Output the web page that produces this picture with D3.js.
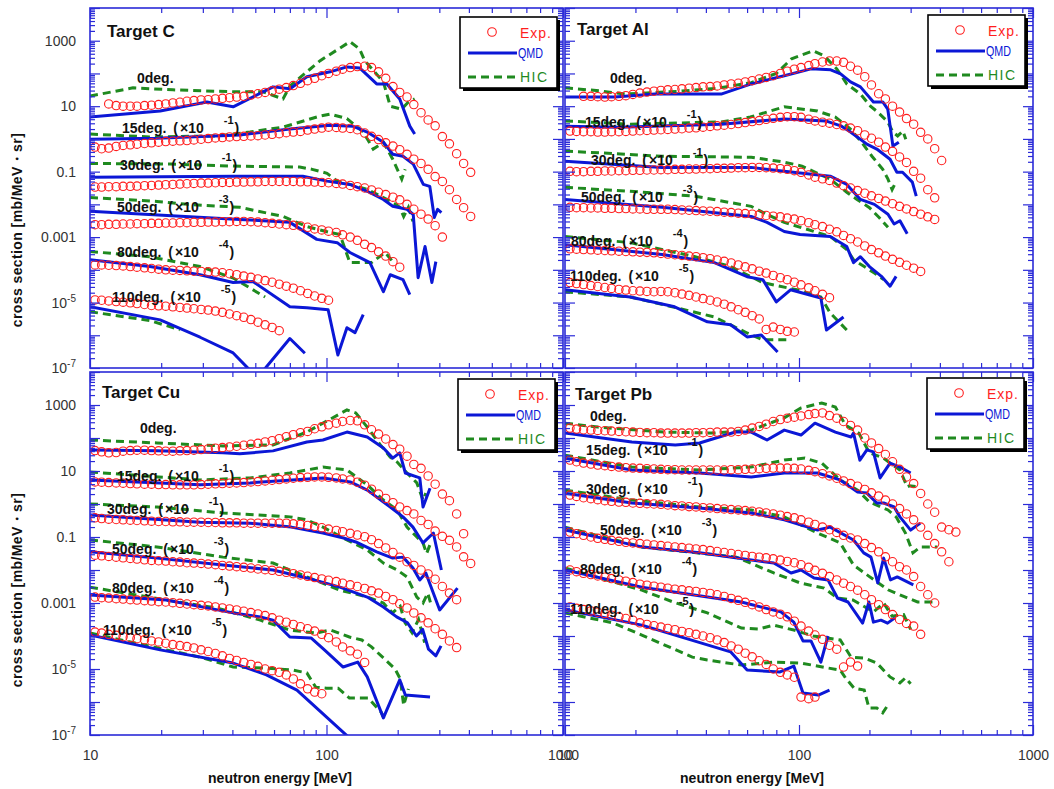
<!DOCTYPE html>
<html><head><meta charset="utf-8">
<script src="https://cdn.jsdelivr.net/npm/d3@7"></script>
<style>body{margin:0;background:#fff}svg{display:block}</style>
</head><body>
<svg id="chart" width="1054" height="789"></svg>
<script>
// ---------- DATA ----------
const targets=["Target C","Target Al","Target Cu","Target Pb"];
const angleNames=["0deg.","15deg.","30deg.","50deg.","80deg.","110deg."];
const scaleExps=["","-1","-1","-3","-4","-5"];
const yTickLabels=[1e3,1e1,1e-1,1e-3,1e-5,1e-7];
const xTickLabels=[10,100,1000];
const legendNames=["Exp.","QMD","HIC"];
// energy bins of the experimental points [MeV]
const expE=[10.5,11.2,12.0,12.9,13.8,14.8,15.8,17.0,18.2,19.5,20.9,22.4,24.0,25.7,27.5,29.5,31.6,33.9,36.3,38.9,41.7,44.7,47.9,51.3,55.0,58.9,63.1,67.6,72.4,77.6,83.2,89.1,95.5,102,110,117,126,135,145,155,166,178,191,204,219,234,251,269,288,309,331,355,380,407,437,468,501];

// log10 of plotted cross sections (already multiplied by scale factors)
// ---- Target C ----
const cExpStart=[2,0,0,0,0,0];
const cExp=[
[1.07,1.02,1.0,1.0,1.0,1.02,1.03,1.05,1.07,1.1,1.12,1.15,1.17,1.19,1.2,1.22,1.24,1.26,1.28,1.3,1.34,1.38,1.42,1.47,1.52,1.57,1.63,1.7,1.78,1.85,1.93,2.0,2.07,2.13,2.18,2.21,2.22,2.18,2.05,1.85,1.6,1.42,1.28,1.05,0.8,0.58,0.4,0.07,-0.15,-0.45,-0.75,-1.02],
[-0.25,-0.3,-0.28,-0.23,-0.2,-0.18,-0.16,-0.14,-0.12,-0.1,-0.08,-0.07,-0.06,-0.05,-0.03,-0.01,0.01,0.03,0.04,0.06,0.07,0.08,0.09,0.1,0.12,0.14,0.16,0.19,0.21,0.23,0.27,0.3,0.33,0.36,0.35,0.33,0.32,0.28,0.18,0.08,-0.02,-0.12,-0.22,-0.33,-0.47,-0.62,-0.75,-0.93,-1.15,-1.3,-1.55,-1.85,-2.1,-2.37],
[-1.47,-1.47,-1.46,-1.46,-1.45,-1.45,-1.44,-1.43,-1.42,-1.41,-1.4,-1.39,-1.38,-1.37,-1.36,-1.35,-1.35,-1.34,-1.33,-1.33,-1.32,-1.32,-1.31,-1.31,-1.3,-1.3,-1.3,-1.3,-1.3,-1.31,-1.31,-1.32,-1.33,-1.34,-1.36,-1.38,-1.42,-1.46,-1.5,-1.56,-1.63,-1.7,-1.78,-1.86,-2.0,-2.15,-2.3,-2.45,-2.65,-3.0],
[-2.62,-2.62,-2.61,-2.61,-2.6,-2.6,-2.59,-2.59,-2.58,-2.58,-2.57,-2.57,-2.56,-2.56,-2.55,-2.55,-2.54,-2.54,-2.53,-2.53,-2.52,-2.52,-2.53,-2.54,-2.56,-2.58,-2.6,-2.62,-2.64,-2.66,-2.7,-2.75,-2.78,-2.82,-2.86,-2.93,-3.0,-3.1,-3.22,-3.32,-3.45,-3.58,-3.75,-3.92],
[-3.85,-3.85,-3.86,-3.87,-3.88,-3.9,-3.92,-3.94,-3.96,-3.98,-4.0,-4.01,-4.02,-4.03,-4.04,-4.05,-4.06,-4.07,-4.09,-4.12,-4.15,-4.19,-4.23,-4.28,-4.33,-4.38,-4.44,-4.5,-4.56,-4.64,-4.72,-4.8,-4.87,-4.93],
[-4.92,-4.93,-4.95,-4.97,-4.99,-5.01,-5.03,-5.06,-5.09,-5.1,-5.11,-5.13,-5.15,-5.17,-5.19,-5.21,-5.23,-5.26,-5.3,-5.35,-5.4,-5.45,-5.52,-5.6,-5.68,-5.76,-5.86]
];
const cQmd=[
[[10,0.67],[19.8,0.85],[31.2,1.13],[40.3,0.98],[59.4,1.59],[70.1,1.53],[82.6,1.9],[103.6,2.05],[122,2.2],[138,2.17],[163,1.68],[180,1.68],[204,1.22],[225,0.39],[236,0.15]],
[[10,-0.01],[19.2,0.02],[43,0.12],[70,0.3],[103.6,0.42],[129,0.39],[148.7,0.21],[174,-0.1],[190.6,-0.47],[210.6,-0.53],[232.7,-0.77],[256.7,-1.39],[273.4,-1.45],[285.6,-2.4],[295,-2.15],[306,-2.25]],
[[10,-1.17],[40.3,-1.14],[79.4,-1.14],[100.5,-1.29],[125.6,-1.39],[148.7,-1.6],[174,-1.85],[190.6,-2.06],[219,-2.15],[232.7,-2.31],[244,-4.24],[261,-3.29],[279,-4.39],[290,-3.75]],
[[10,-2.21],[43,-2.46],[70,-2.55],[91,-3.07],[111,-3.17],[125.6,-3.47],[152.6,-3.78],[174,-4.67],[186,-4.15],[210.6,-4.3],[225,-4.76]],
[[10,-3.69],[17.9,-3.9],[29.2,-4.15],[40.3,-4.39],[48.9,-4.36],[70,-5.13],[82.6,-5.16],[101.6,-5.22],[111.7,-6.6],[122,-5.77],[132,-5.92],[143,-5.37]],
[[10,-5.13],[19.8,-5.53],[29.2,-6.06],[40.3,-6.54],[51,-7.3],[70,-6.1],[81,-6.55]]
];
const cHic=[
[[10,1.31],[15.2,1.56],[22.4,1.5],[40.3,1.44],[53.9,1.44],[65.5,1.22],[70.1,1.62],[94,2.39],[125.6,2.97],[138,2.75],[145,2.39],[174,1.74],[186,1.0],[208,0.91],[222,1.13],[236,1.22]],
[[10,0.15],[17.9,0.06],[34.4,0.09],[47.5,0.21],[65.5,0.36],[94,0.7],[103.6,0.76],[122,0.62],[143,0.21],[157.6,-0.31],[174,-0.1],[190.6,-0.62],[208,-1.23],[215,-0.93]],
[[10,-0.75],[22,-0.77],[40.3,-0.83],[77,-0.86],[87,-0.93],[100.5,-1.05],[111,-1.29],[125.6,-1.39],[148.7,-1.54],[174,-1.79],[190.6,-1.94],[204,-2.09],[212,-2.37],[222,-2.09],[232,-2.52]],
[[10,-1.79],[19.2,-1.91],[26,-2.0],[43,-2.09],[65.5,-2.37],[82.6,-2.68],[103.6,-2.86],[114,-2.92],[120,-3.38],[125.6,-3.78],[155,-3.78],[177,-3.47],[190.6,-3.75]],
[[10,-3.44],[17.9,-3.6],[29.2,-3.9],[40.3,-4.25],[55,-4.83]],
[[10,-5.28],[17.9,-5.55],[24,-5.83]]
];
// ---- Target Al ----
const aExpStart=[2,0,0,0,0,0];
const aExp=[
[1.3,1.3,1.29,1.28,1.29,1.3,1.32,1.36,1.4,1.43,1.46,1.48,1.5,1.51,1.53,1.55,1.57,1.59,1.6,1.62,1.65,1.68,1.7,1.74,1.78,1.83,1.88,1.93,2.0,2.07,2.13,2.18,2.24,2.3,2.35,2.38,2.38,2.34,2.22,2.1,1.9,1.65,1.38,1.22,1.0,0.82,0.62,0.45,0.2,0.0,-0.3,-0.66],
[0.24,0.23,0.22,0.22,0.21,0.21,0.22,0.22,0.23,0.24,0.25,0.26,0.27,0.28,0.29,0.3,0.31,0.33,0.34,0.36,0.38,0.4,0.42,0.44,0.47,0.5,0.53,0.56,0.6,0.63,0.66,0.68,0.68,0.66,0.6,0.55,0.51,0.48,0.44,0.4,0.33,0.25,0.12,0.02,-0.1,-0.25,-0.38,-0.55,-0.72,-0.99,-1.2,-1.55,-1.8],
[-0.99,-1.0,-1.0,-0.99,-0.99,-0.98,-0.98,-0.97,-0.97,-0.96,-0.96,-0.95,-0.95,-0.94,-0.94,-0.93,-0.93,-0.92,-0.92,-0.91,-0.91,-0.9,-0.9,-0.89,-0.88,-0.88,-0.87,-0.87,-0.88,-0.89,-0.91,-0.93,-0.97,-1.02,-1.1,-1.17,-1.22,-1.27,-1.35,-1.43,-1.5,-1.58,-1.66,-1.74,-1.82,-1.9,-1.98,-2.06,-2.14,-2.22,-2.3,-2.38,-2.46],
[-2.09,-2.1,-2.1,-2.11,-2.11,-2.12,-2.12,-2.13,-2.13,-2.14,-2.14,-2.15,-2.15,-2.15,-2.15,-2.16,-2.17,-2.18,-2.19,-2.2,-2.21,-2.22,-2.24,-2.25,-2.27,-2.28,-2.3,-2.32,-2.34,-2.36,-2.38,-2.42,-2.45,-2.5,-2.56,-2.62,-2.68,-2.76,-2.84,-2.95,-3.05,-3.15,-3.27,-3.38,-3.48,-3.58,-3.68,-3.77,-3.86,-3.95,-4.05],
[-3.36,-3.37,-3.38,-3.39,-3.4,-3.41,-3.42,-3.43,-3.44,-3.45,-3.46,-3.47,-3.48,-3.5,-3.52,-3.54,-3.56,-3.58,-3.6,-3.63,-3.66,-3.7,-3.74,-3.79,-3.85,-3.91,-3.97,-4.04,-4.1,-4.17,-4.24,-4.3,-4.38,-4.46,-4.55,-4.64,-4.75,-4.85],
[-4.39,-4.42,-4.45,-4.48,-4.51,-4.54,-4.57,-4.6,-4.62,-4.64,-4.65,-4.66,-4.67,-4.66,-4.67,-4.7,-4.74,-4.78,-4.83,-4.88,-4.93,-4.98,-5.05,-5.13,-5.22,-5.3,-5.4,-5.5,-5.82,-5.75,-5.82,-5.88,-5.9]
];
const aQmd=[
[[10,1.28],[16.3,1.28],[24.2,1.37],[46.5,1.37],[62.5,1.68],[86.5,1.93],[112.5,2.14],[136.6,2.11],[150.6,1.99],[166,1.74],[183,1.59],[208,1.13],[228,1.13],[239.5,0.91],[252,-0.22],[267,-0.1]],
[[10,0.39],[17,0.36],[46.5,0.45],[86.5,0.61],[130,0.55],[152,0.39],[166,0.21],[195,-0.16],[215,-0.31],[230,-0.47],[245,-0.62],[262,-1.02],[277,-1.02],[305,-1.32],[317,-1.75]],
[[10,-0.68],[26,-0.87],[62.5,-0.87],[86.5,-0.99],[136,-1.14],[160,-1.39],[183,-1.85],[210,-2.0],[240,-2.3],[255,-2.6],[270,-2.5],[290,-2.9]],
[[10,-1.85],[26,-2.09],[62.5,-2.37],[73,-2.55],[86.5,-2.83],[101,-2.92],[136,-2.98],[160,-3.29],[171,-3.78],[183,-3.6],[200,-3.9],[225,-4.2],[245,-4.5],[260,-4.2]],
[[10,-3.23],[26,-3.53],[43.5,-3.78],[60,-4.21],[70,-4.3],[80,-4.98],[92,-4.61],[124,-4.86],[131,-5.84],[155,-5.44]],
[[10,-4.61],[19,-4.83],[29.4,-5.13],[40.6,-5.59],[51,-5.68],[60,-6.05],[69,-5.99],[81,-6.51]]
];
const aHic=[
[[10,1.56],[14,1.47],[18,1.37],[30,1.45],[45,1.55],[62.5,1.72],[80,2.0],[93,2.45],[115,2.69],[128,2.54],[145,2.14],[160,1.68],[183,1.37],[202,1.0],[217,0.82],[239.5,0.52],[252,0.21],[264,0.09],[278,0.24],[286,-0.01]],
[[10,0.55],[19,0.45],[46.5,0.52],[62,0.67],[86.5,0.98],[120,0.85],[143,0.67],[166,0.3],[185,-0.1],[205,-0.53],[228,-0.93],[240,-1.23],[250,-1.55],[260,-1.3]],
[[10,-0.37],[26,-0.53],[62.5,-0.56],[86.5,-0.71],[103,-0.83],[136,-1.23],[160,-1.63],[177,-1.85],[200,-2.1],[220,-2.4],[240,-2.7]],
[[10,-1.48],[19,-1.6],[36,-1.75],[62.5,-2.06],[73,-2.31],[86.5,-2.55],[136,-2.98],[160,-3.38],[171,-3.69],[190,-3.9],[210,-4.1],[230,-4.3]],
[[10,-2.98],[19,-3.17],[36,-3.6],[51,-3.9],[70,-4.39],[98,-4.61],[124,-4.83],[136,-5.32],[160,-5.84]],
[[10,-4.67],[19,-4.83],[26.5,-5.07],[43.5,-5.44],[60,-5.93],[70,-6.14],[90,-6.14]]
];
// ---- Target Cu ----
const uExpStart=[0,0,0,0,0,0];
const uExp=[
[1.62,1.58,1.55,1.56,1.6,1.62,1.63,1.63,1.62,1.61,1.6,1.6,1.61,1.62,1.63,1.65,1.67,1.69,1.71,1.73,1.75,1.78,1.81,1.84,1.88,1.92,1.98,2.04,2.1,2.16,2.2,2.28,2.34,2.4,2.45,2.5,2.53,2.52,2.4,2.25,2.12,1.97,1.8,1.66,1.45,1.2,1.08,0.85,0.6,0.3,0.1,-0.3,-0.9],
[0.67,0.66,0.65,0.64,0.63,0.62,0.61,0.6,0.6,0.59,0.59,0.58,0.58,0.58,0.58,0.59,0.6,0.61,0.62,0.63,0.64,0.65,0.67,0.68,0.7,0.72,0.74,0.76,0.78,0.8,0.81,0.82,0.82,0.81,0.79,0.76,0.73,0.66,0.57,0.45,0.3,0.17,0.04,-0.09,-0.2,-0.3,-0.5,-0.62,-0.82,-0.98,-1.1,-1.3,-1.6,-1.8],
[-0.42,-0.44,-0.46,-0.47,-0.48,-0.49,-0.5,-0.51,-0.52,-0.53,-0.53,-0.54,-0.54,-0.55,-0.55,-0.55,-0.56,-0.56,-0.57,-0.57,-0.57,-0.58,-0.58,-0.58,-0.58,-0.58,-0.58,-0.58,-0.6,-0.62,-0.65,-0.68,-0.72,-0.76,-0.8,-0.84,-0.89,-0.94,-0.99,-1.08,-1.2,-1.33,-1.47,-1.61,-1.75,-1.86,-2.0,-2.12,-2.28,-2.5,-2.7,-2.9],
[-1.55,-1.57,-1.59,-1.61,-1.63,-1.65,-1.67,-1.69,-1.71,-1.72,-1.73,-1.75,-1.76,-1.78,-1.79,-1.8,-1.82,-1.84,-1.86,-1.88,-1.9,-1.92,-1.94,-1.97,-1.99,-2.01,-2.04,-2.07,-2.11,-2.15,-2.19,-2.23,-2.27,-2.31,-2.35,-2.4,-2.45,-2.5,-2.56,-2.63,-2.7,-2.8,-2.9,-3.02,-3.15,-3.3,-3.45,-3.6,-3.78,-3.95,-4.15,-4.35],
[-2.82,-2.84,-2.85,-2.87,-2.88,-2.9,-2.91,-2.93,-2.94,-2.96,-2.97,-2.99,-3.01,-3.03,-3.05,-3.07,-3.09,-3.12,-3.15,-3.18,-3.21,-3.25,-3.29,-3.33,-3.38,-3.45,-3.52,-3.58,-3.65,-3.72,-3.78,-3.85,-3.95,-4.05,-4.18,-4.33,-4.45,-4.55,-4.8],
[-3.88,-3.91,-3.95,-3.98,-4.02,-4.05,-4.08,-4.11,-4.15,-4.18,-4.22,-4.26,-4.29,-4.32,-4.36,-4.42,-4.47,-4.53,-4.6,-4.68,-4.74,-4.8,-4.86,-4.92,-5.0,-5.05,-5.1,-5.18,-5.3,-5.45,-5.6,-5.7,-5.75]
];
const uQmd=[
[[10,1.64],[19.2,1.61],[36.5,1.55],[43,1.52],[59.4,1.61],[82.6,1.88],[96.6,1.94],[122,2.18],[148.7,2.03],[174,1.7],[190.6,1.39],[204,1.55],[215.5,0.94],[248,0.79],[256,-0.09],[274,0.48]],
[[10,0.73],[29.2,0.58],[47.5,0.64],[96.6,0.79],[126,0.67],[148.7,0.42],[186,-0.09],[210.6,-0.39],[232,-0.7],[256,-1.18],[283,-0.88],[306,-2.0]],
[[10,-0.33],[29.2,-0.55],[47.5,-0.58],[71,-0.7],[96.6,-0.88],[118,-1.03],[133,-1.15],[163,-1.45],[190.6,-1.64],[210.6,-1.61],[232,-1.94],[248,-2.3],[263,-2.09],[301,-3.21],[358,-2.55]],
[[10,-1.45],[19.2,-1.64],[36.5,-1.85],[59.4,-2.0],[82.6,-2.24],[114,-2.52],[148.7,-2.82],[174,-3.12],[198,-3.42],[220,-3.6],[240,-4.0],[255,-3.8],[270,-4.4],[290,-4.6],[305,-4.3]],
[[10,-2.76],[21,-2.91],[40.3,-3.3],[52.5,-3.42],[59.4,-3.52],[70,-4.03],[86,-4.06],[98,-4.42],[117.6,-4.94],[135.6,-4.79],[148.7,-5.24],[174,-6.48],[204,-5.33],[215.5,-5.79],[274,-5.85]],
[[10,-3.97],[19.8,-4.42],[40.3,-4.82],[55.7,-5.18],[75,-5.64],[130,-7.2]]
];
const uHic=[
[[10,1.94],[19.2,1.85],[36.5,1.76],[59.4,1.79],[82.6,2.18],[96.6,2.45],[122,2.85],[133,2.76],[148.7,2.33],[169,1.79],[186,1.42],[199,1.27],[219,0.94],[241,0.64],[256,0.12],[263,0.33]],
[[10,0.97],[29.2,0.73],[47.5,0.79],[70,0.94],[96.6,1.12],[122,1.03],[148.7,0.58],[174,0.12],[199,-0.18],[219,-0.7],[241,-1.0],[256,-1.18],[265,-1.5],[275,-1.2]],
[[10,0.0],[19.2,-0.09],[36.5,-0.27],[70,-0.39],[82.6,-0.48],[96.6,-0.7],[122,-1.09],[148.7,-1.39],[174,-1.79],[199,-2.0],[219,-2.21],[241,-2.82],[256,-3.0],[268,-2.7],[278,-3.1]],
[[10,-1.09],[19.2,-1.3],[36.5,-1.61],[59.4,-1.79],[82.6,-2.21],[114,-2.61],[148.7,-2.82],[174,-3.0],[190,-3.3],[205,-3.1],[215,-3.6],[230,-3.9],[245,-3.5],[260,-4.2]],
[[10,-2.52],[21,-2.91],[34.4,-3.15],[52.5,-3.52],[70,-3.82],[90,-3.91],[104,-3.82],[125,-4.03],[141,-4.12],[155,-4.33],[178,-4.73],[195,-5.0],[205,-5.3],[212,-6.1],[222,-5.6]],
[[10,-3.91],[21,-4.42],[29.2,-4.64],[40.3,-4.94],[55,-4.97],[72,-5.03],[82.6,-5.12],[90,-5.55],[100,-5.58],[112,-5.58],[125,-5.88],[150,-5.88],[170,-6.3],[178,-6.6]]
];
// ---- Target Pb ----
const pExpStart=[0,0,0,0,0,0];
const pExp=[
[2.3,2.27,2.25,2.24,2.23,2.22,2.21,2.2,2.19,2.18,2.17,2.16,2.16,2.15,2.15,2.15,2.15,2.15,2.16,2.16,2.17,2.18,2.18,2.18,2.2,2.24,2.3,2.35,2.42,2.5,2.56,2.6,2.63,2.67,2.71,2.74,2.76,2.68,2.6,2.5,2.38,2.24,2.0,1.85,1.68,1.5,1.28,1.05,0.82,0.62,0.32,0.0,-0.25,-0.7,-0.78,-0.85],
[1.33,1.28,1.24,1.21,1.18,1.16,1.14,1.12,1.1,1.09,1.08,1.07,1.06,1.05,1.04,1.04,1.03,1.03,1.03,1.03,1.03,1.03,1.03,1.04,1.04,1.05,1.06,1.07,1.08,1.09,1.09,1.09,1.08,1.06,1.02,0.98,0.92,0.85,0.78,0.7,0.62,0.54,0.44,0.34,0.24,0.12,0.0,-0.14,-0.3,-0.48,-0.7,-0.95,-1.2,-1.45,-1.75],
[0.27,0.23,0.19,0.16,0.13,0.1,0.08,0.06,0.05,0.03,0.02,0.01,0.0,-0.01,-0.03,-0.05,-0.06,-0.08,-0.09,-0.11,-0.12,-0.14,-0.15,-0.17,-0.18,-0.2,-0.22,-0.24,-0.27,-0.3,-0.34,-0.38,-0.42,-0.48,-0.55,-0.62,-0.7,-0.78,-0.86,-0.95,-1.03,-1.09,-1.2,-1.32,-1.45,-1.6,-1.75,-1.9,-2.0,-2.2,-2.5,-2.75,-3.0],
[-0.85,-0.9,-0.95,-1.0,-1.04,-1.07,-1.1,-1.13,-1.16,-1.18,-1.2,-1.22,-1.24,-1.26,-1.28,-1.3,-1.32,-1.34,-1.36,-1.38,-1.41,-1.44,-1.47,-1.5,-1.53,-1.56,-1.59,-1.61,-1.63,-1.66,-1.7,-1.74,-1.78,-1.84,-1.92,-2.01,-2.1,-2.2,-2.3,-2.4,-2.5,-2.61,-2.75,-2.9,-3.05,-3.2,-3.35,-3.5,-3.62,-3.7,-3.95],
[-2.0,-2.05,-2.1,-2.14,-2.18,-2.22,-2.26,-2.3,-2.34,-2.38,-2.43,-2.46,-2.49,-2.52,-2.55,-2.58,-2.6,-2.63,-2.65,-2.68,-2.71,-2.75,-2.8,-2.86,-2.92,-2.98,-3.05,-3.12,-3.2,-3.27,-3.34,-3.42,-3.55,-3.7,-3.85,-3.97,-4.1,-4.28,-4.4,-4.94,-4.79,-4.91],
[-3.12,-3.16,-3.2,-3.24,-3.28,-3.32,-3.37,-3.42,-3.47,-3.52,-3.6,-3.65,-3.69,-3.73,-3.77,-3.81,-3.86,-3.9,-3.95,-4.0,-4.05,-4.12,-4.2,-4.3,-4.4,-4.52,-4.63,-4.75,-4.86,-5.0,-5.1,-5.18,-5.25,-5.85,-5.9,-5.85]
];
const pQmd=[
[[10,2.15],[19.3,1.88],[29.6,1.79],[37.6,1.85],[53.5,2.18],[62.5,2.18],[73,1.94],[86.5,2.24],[102,2.09],[117,2.45],[143,2.18],[167,2.03],[171,2.15],[182,1.33],[195,1.64],[208,1.58],[222,0.79],[245,1.24],[270,1.12],[300,0.94]],
[[10,1.39],[19.3,1.03],[37.6,0.94],[62.5,0.82],[86.5,0.94],[120,0.94],[150,0.73],[178,0.36],[195,0.33],[215,0.03],[230,0.03],[255,-0.09],[270,-0.39],[300,-0.79],[330,-0.58]],
[[10,0.33],[19.3,0.03],[37.6,-0.12],[62.5,-0.27],[86.5,-0.48],[120,-0.79],[136,-0.7],[171,-1.09],[189,-1.48],[203,-1.61],[217,-2.39],[230,-1.64],[246,-2.3],[263,-2.21],[308,-2.45]],
[[10,-0.79],[21.3,-1.3],[37.6,-1.48],[78,-1.79],[92.5,-2.09],[102,-2.0],[116,-2.24],[133,-2.3],[146,-2.85],[162,-2.97],[187,-3.61],[199,-2.97],[208,-3.58],[224,-3.52],[239,-3.61],[257,-3.45]],
[[10,-2.0],[21.3,-2.52],[56.7,-2.97],[83.6,-3.27],[95,-3.58],[104,-4.15],[112.5,-4.15],[124,-4.79],[133,-4.0]],
[[10,-3.2],[21.3,-3.67],[51,-4.48],[60,-5.03],[83,-5.09],[95,-4.91],[104,-5.73],[121,-5.79],[135,-5.64]]
];
const pHic=[
[[10,2.45],[13.8,2.33],[26.5,2.18],[43.5,2.15],[62.5,2.24],[86.5,2.61],[102,2.91],[125,3.06],[143,2.94],[158,2.39],[180,2.15],[200,1.55],[230,1.39],[245,1.24],[270,1.03],[290,0.52],[296,0.55],[330,0.52]],
[[10,1.48],[19.3,1.12],[37.6,1.03],[62.5,1.12],[86.5,1.33],[106,1.39],[125,1.24],[150,0.73],[178,0.42],[200,0.06],[240,-0.18],[260,-0.39],[285,-0.88],[307,-1.48],[330,-1.3],[390,-1.3]],
[[10,0.42],[19.3,0.12],[37.6,-0.09],[62.5,-0.18],[86.5,-0.39],[120,-0.88],[150,-1.18],[171,-1.85],[200,-2.2],[240,-2.6],[280,-2.8],[321,-2.97],[372,-2.97]],
[[10,-0.7],[21.3,-1.3],[54,-1.61],[78,-2.09],[101,-2.39],[128,-2.55],[146,-2.85],[170,-2.91],[208,-3.27],[230,-3.0],[250,-3.4],[280,-3.35],[300,-3.8]],
[[10,-1.94],[21.3,-2.61],[29,-2.97],[40.6,-3.3],[56.7,-3.76],[67,-3.79],[78,-3.67],[95,-3.82],[115,-4.0],[150,-4.12],[167,-4.64],[191,-4.67],[215,-4.82],[245,-5.24],[270,-5.42],[285,-5.27],[300,-5.45]],
[[10,-3.3],[16,-3.6],[21.3,-3.97],[35,-4.64],[40.6,-4.73],[56.7,-4.88],[78,-4.79],[102,-4.82],[133,-4.97],[150,-5.03],[158,-5.27],[172,-5.58],[190,-5.64],[199,-6.18],[215,-6.18],[228,-6.33],[243,-6.03]]
];

// ---------- LAYOUT ----------
const FONT='"Liberation Sans", Arial, Helvetica, sans-serif';
const COL={exp:"#ff1e1e",qmd:"#0b17d6",hic:"#1f8a1f",axis:"#2b2bd8",tick:"#333"};
const panels=[
 {x0:90,x1:563,y0:8,y1:368,title:[107,37],legend:[460,17],labels:[[137,83],[122,133],[120,170],[117,212],[117,257],[112,302]],yTitle:[22,230],xTitle:null,yLab:true},
 {x0:565,x1:1033,y0:8,y1:368,title:[577,35],legend:[928,15],labels:[[610,83],[585,127],[591,165],[581,202],[571,246],[570,281]],yTitle:null,xTitle:null,yLab:false},
 {x0:90,x1:563,y0:372,y1:735,title:[102,398],legend:[458,379],labels:[[140,433],[117,481],[107,514],[112,554],[112,593],[103,635]],yTitle:[22,590],xTitle:[280,783],yLab:true},
 {x0:565,x1:1033,y0:372,y1:735,title:[575,400],legend:[927,378],labels:[[590,421],[586,455],[586,494],[600,535],[580,574],[570,614]],yTitle:null,xTitle:[752,783],yLab:false}
];
const series=[
 {exp:cExp,start:cExpStart,qmd:cQmd,hic:cHic},
 {exp:aExp,start:aExpStart,qmd:aQmd,hic:aHic},
 {exp:uExp,start:uExpStart,qmd:uQmd,hic:uHic},
 {exp:pExp,start:pExpStart,qmd:pQmd,hic:pHic}
];

// ---------- DRAW ----------
const svg=d3.select("#chart");
const defs=svg.append("defs");
const majY=[],minY=[];
for(let e=-7;e<=4;e++){majY.push(Math.pow(10,e)); if(e<4) for(let m=2;m<=9;m++) minY.push(m*Math.pow(10,e));}
const majX=[10,100,1000],minX=[];
for(const b of [10,100]) for(let m=2;m<=9;m++) minX.push(m*b);

panels.forEach((p,pi)=>{
  const d=series[pi];
  const x=d3.scaleLog().domain([10,1000]).range([p.x0,p.x1]);
  const y=d3.scaleLog().domain([1e-7,1e4]).range([p.y1,p.y0]);
  const g=svg.append("g");
  defs.append("clipPath").attr("id","clip"+pi).append("rect")
    .attr("x",p.x0).attr("y",p.y0).attr("width",p.x1-p.x0).attr("height",p.y1-p.y0);
  const plot=g.append("g").attr("clip-path",`url(#clip${pi})`);
  const line=d3.line().x(q=>x(q[0])).y(q=>y(Math.pow(10,q[1])));
  d.hic.forEach(c=>plot.append("path").attr("d",line(c)).attr("fill","none")
    .attr("stroke",COL.hic).attr("stroke-width",3).attr("stroke-dasharray","8,5"));
  d.qmd.forEach(c=>plot.append("path").attr("d",line(c)).attr("fill","none")
    .attr("stroke",COL.qmd).attr("stroke-width",3).attr("stroke-linejoin","round"));
  d.exp.forEach((vals,i)=>{
    const pts=vals.map((v,j)=>[expE[d.start[i]+j],v]);
    plot.append("g").selectAll("circle").data(pts).join("circle")
      .attr("cx",q=>x(q[0])).attr("cy",q=>y(Math.pow(10,q[1]))).attr("r",4.2)
      .attr("fill","none").attr("stroke",COL.exp).attr("stroke-width",1.1);
  });
  // frame
  g.append("rect").attr("x",p.x0).attr("y",p.y0).attr("width",p.x1-p.x0).attr("height",p.y1-p.y0)
    .attr("fill","none").attr("stroke",COL.axis).attr("stroke-width",1.6);
  // ticks
  function ax(gen,tx,ty){
    const a=g.append("g").attr("transform",`translate(${tx},${ty})`).call(gen);
    a.select(".domain").remove();
    a.selectAll("line").attr("stroke",COL.axis).attr("stroke-width",1.2);
    return a;
  }
  ax(d3.axisLeft(y).tickValues(majY).tickSize(-10).tickFormat(""),p.x0,0);
  ax(d3.axisLeft(y).tickValues(minY).tickSize(-5).tickFormat(""),p.x0,0);
  ax(d3.axisRight(y).tickValues(majY).tickSize(-10).tickFormat(""),p.x1,0);
  ax(d3.axisRight(y).tickValues(minY).tickSize(-5).tickFormat(""),p.x1,0);
  ax(d3.axisBottom(x).tickValues(majX).tickSize(-10).tickFormat(""),0,p.y1);
  ax(d3.axisBottom(x).tickValues(minX).tickSize(-5).tickFormat(""),0,p.y1);
  ax(d3.axisTop(x).tickValues(majX).tickSize(-10).tickFormat(""),0,p.y0);
  ax(d3.axisTop(x).tickValues(minX).tickSize(-5).tickFormat(""),0,p.y0);
  // y tick labels
  if(p.yLab){
    const la=g.append("g").attr("transform",`translate(${p.x0},0)`)
      .call(d3.axisLeft(y).tickValues(yTickLabels).tickSize(0).tickPadding(14).tickFormat(d3.format("~g")));
    la.select(".domain").remove();
    la.selectAll("text").attr("font-size",14).attr("fill",COL.tick).attr("font-family",FONT)
      .each(function(v){
        if(v<1e-4){
          const t=d3.select(this);
          const e=Math.round(Math.log10(v));
          t.text(null);
          t.append("tspan").text("10");
          t.append("tspan").attr("dy","-0.55em").attr("font-size",10).text(String(e));
        }
      });
  }
  // x tick labels (bottom row)
  if(p.xTitle){
    const lx=g.append("g").attr("transform",`translate(0,${p.y1})`)
      .call(d3.axisBottom(x).tickValues(xTickLabels).tickSize(0).tickPadding(15).tickFormat(d3.format("d")));
    lx.select(".domain").remove();
    lx.selectAll("text").attr("font-size",14).attr("fill",COL.tick).attr("font-family",FONT);
    g.append("text").attr("x",p.xTitle[0]).attr("y",p.xTitle[1]).attr("text-anchor","middle")
      .attr("font-family",FONT).attr("font-size",14).attr("font-weight","bold").attr("fill","#111")
      .text("neutron energy [MeV]");
  }
  if(p.yTitle){
    g.append("text").attr("transform",`translate(${p.yTitle[0]},${p.yTitle[1]}) rotate(-90)`)
      .attr("text-anchor","middle").attr("font-family",FONT).attr("font-size",14)
      .attr("font-weight","bold").attr("letter-spacing",0.4).attr("fill","#111")
      .text("cross section [mb/MeV・sr]");
  }
  // panel title
  g.append("text").attr("x",p.title[0]).attr("y",p.title[1]).attr("font-family",FONT)
    .attr("font-size",17).attr("font-weight","bold").attr("fill","#111").text(targets[pi]);
  // angle labels
  p.labels.forEach((pos,i)=>{
    const t=g.append("text").attr("x",pos[0]).attr("y",pos[1]).attr("font-family",FONT)
      .attr("font-size",14).attr("font-weight","bold").attr("fill","#111");
    t.append("tspan").text(angleNames[i]);
    if(scaleExps[i]){
      t.append("tspan").attr("dx",7).text("(");
      t.append("tspan").attr("dx",2).text("×10");
      t.append("tspan").attr("dx",20).attr("dy",-9).attr("font-size",11).text(scaleExps[i]);
      t.append("tspan").attr("dx",1).attr("dy",9).text(")");
    }
  });
  // legend
  const [bx,by]=p.legend;
  const lg=g.append("g");
  lg.append("rect").attr("x",bx+3).attr("y",by+3).attr("width",97).attr("height",71).attr("fill","#000");
  lg.append("rect").attr("x",bx).attr("y",by).attr("width",97).attr("height",71)
    .attr("fill","#fff").attr("stroke","#000").attr("stroke-width",1.6);
  lg.append("circle").attr("cx",bx+32).attr("cy",by+15).attr("r",4.3)
    .attr("fill","none").attr("stroke",COL.exp).attr("stroke-width",1.1);
  lg.append("line").attr("x1",bx+8).attr("x2",bx+57).attr("y1",by+36).attr("y2",by+36)
    .attr("stroke",COL.qmd).attr("stroke-width",3);
  lg.append("line").attr("x1",bx+8).attr("x2",bx+57).attr("y1",by+60).attr("y2",by+60)
    .attr("stroke",COL.hic).attr("stroke-width",3).attr("stroke-dasharray","8,5");
  const lt=[[bx+60,by+21,COL.exp,1],[bx+58,by+41,COL.qmd,0],[bx+60,by+65,COL.hic,1.5]];
  legendNames.forEach((nm,i)=>{
    const tt=lg.append("text").attr("x",lt[i][0]).attr("y",lt[i][1]).attr("font-family",FONT)
      .attr("font-size",14).attr("fill",lt[i][2]).attr("letter-spacing",lt[i][3]).text(nm);
    if(nm==="QMD") tt.attr("textLength",25).attr("lengthAdjust","spacingAndGlyphs");
  });
});
</script>
</body></html>
